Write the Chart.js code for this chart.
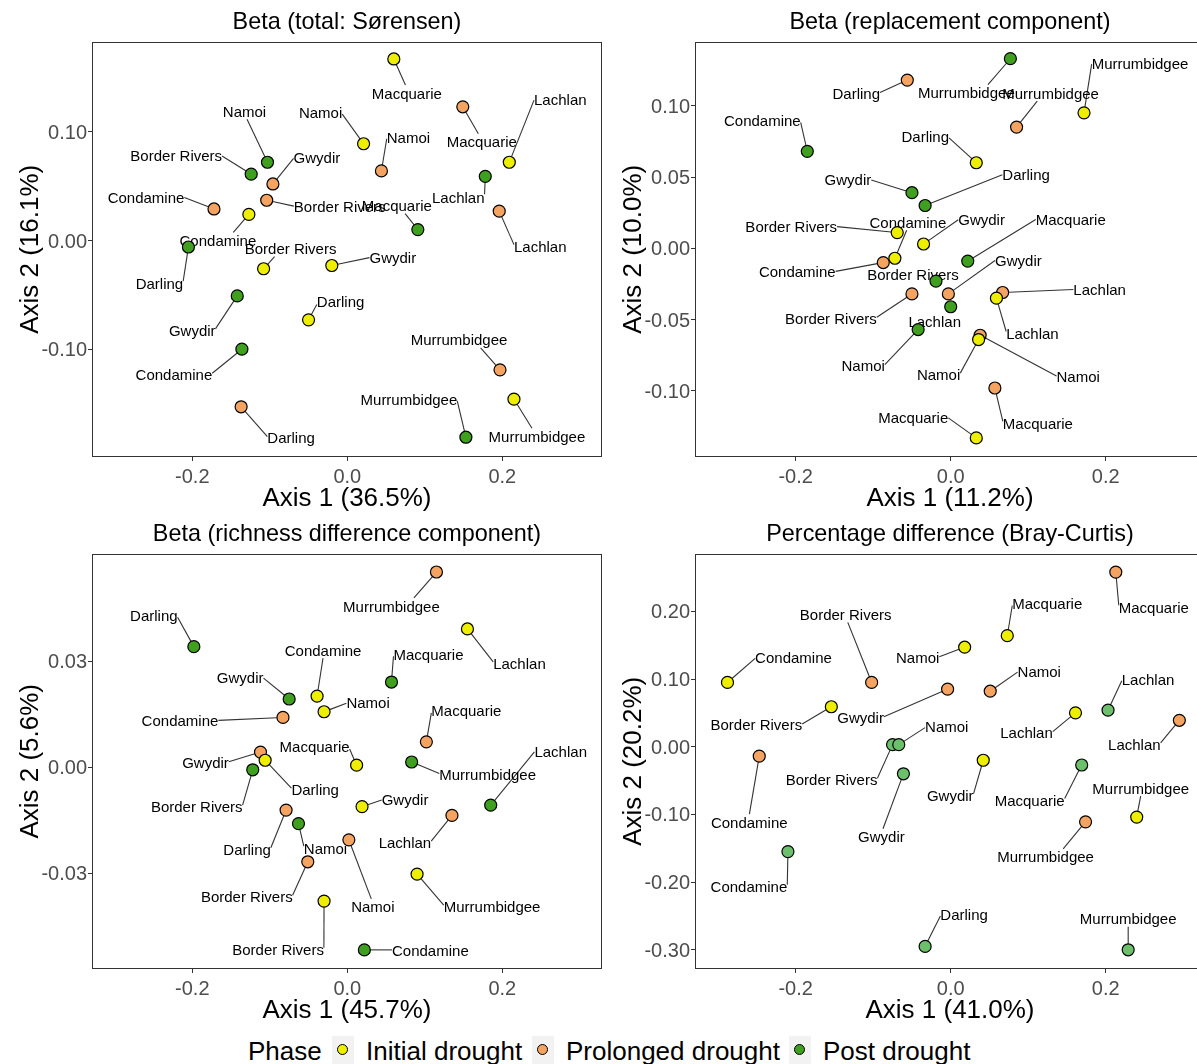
<!DOCTYPE html>
<html>
<head>
<meta charset="utf-8">
<title>Drought phase ordinations</title>
<script src="https://cdn.jsdelivr.net/npm/chart.js@4.4.1/dist/chart.umd.min.js"></script>
<style>
  html, body { margin: 0; padding: 0; background: #fff; overflow: hidden; }
  #figure { position: relative; width: 1197px; height: 1064px; overflow: hidden; font-family: "Liberation Sans", Arial, sans-serif; }
  #figure canvas { position: absolute; }
  .legend-text { position: absolute; top: 1035px; height: 32px; line-height: 32px; font-size: 26px; color: #000; white-space: nowrap; }
  .legend-key { position: absolute; top: 1036px; width: 22px; height: 28px; background: #f2f2f2; }
  .legend-key span { position: absolute; left: 5px; top: 8px; width: 9px; height: 9px; border: 1px solid #000; border-radius: 50%; }
</style>
</head>
<body>
<div id="figure">
  <canvas id="sorensen" width="603" height="515" style="left:0;top:0"></canvas>
  <canvas id="replacement" width="603" height="515" style="left:603px;top:0"></canvas>
  <canvas id="richness" width="603" height="515" style="left:0;top:512px"></canvas>
  <canvas id="braycurtis" width="603" height="515" style="left:603px;top:512px"></canvas>
</div>
<script>
// rivers, in the order used by every point array below
const rivers = ['Border Rivers', 'Condamine', 'Darling', 'Gwydir', 'Lachlan', 'Macquarie', 'Murrumbidgee', 'Namoi'];
const phases = ['Initial drought', 'Prolonged drought', 'Post drought'];

// Beta (total: Sorensen) - [axis1, axis2]
const sorInitial   = [[-0.108,-0.026],[-0.127,0.024],[-0.050,-0.073],[-0.020,-0.023],[0.209,0.072],[0.060,0.167],[0.215,-0.146],[0.021,0.089]];
const sorProlonged = [[-0.104,0.037],[-0.172,0.029],[-0.137,-0.153],[-0.096,0.052],[0.196,0.027],[0.149,0.123],[0.197,-0.119],[0.044,0.064]];
const sorPost      = [[-0.124,0.061],[-0.136,-0.100],[-0.205,-0.006],[-0.142,-0.051],[0.178,0.059],[0.091,0.010],[0.153,-0.181],[-0.103,0.072]];

// Beta (replacement component)
const repInitial   = [[-0.069,0.011],[-0.072,-0.007],[0.033,0.060],[-0.035,0.003],[0.059,-0.035],[0.033,-0.133],[0.172,0.095],[0.036,-0.064]];
const repProlonged = [[-0.050,-0.032],[-0.087,-0.010],[-0.056,0.118],[-0.003,-0.032],[0.067,-0.031],[0.057,-0.098],[0.085,0.085],[0.038,-0.061]];
const repPost      = [[-0.019,-0.023],[-0.185,0.068],[-0.033,0.030],[-0.050,0.039],[0.000,-0.041],[0.022,-0.009],[0.077,0.133],[-0.042,-0.057]];

// Beta (richness difference component)
const richInitial   = [[-0.030,-0.0378],[-0.039,0.0201],[-0.106,0.0020],[0.019,-0.0111],[0.155,0.0391],[0.012,0.0006],[0.090,-0.0302],[-0.030,0.0157]];
const richProlonged = [[-0.051,-0.0267],[-0.083,0.0141],[-0.079,-0.0121],[-0.112,0.0043],[0.135,-0.0136],[0.102,0.0072],[0.115,0.0552],[0.002,-0.0205]];
const richPost      = [[-0.122,-0.0007],[0.022,-0.0516],[-0.198,0.0341],[-0.075,0.0193],[0.185,-0.0107],[0.057,0.0241],[0.083,0.0015],[-0.063,-0.0159]];

// Percentage difference (Bray-Curtis) - no Darling point for the first two phases
const bcInitial   = [[-0.154,0.059],[-0.288,0.095],null,[0.042,-0.020],[0.161,0.050],[0.073,0.164],[0.240,-0.104],[0.018,0.147]];
const bcProlonged = [[-0.102,0.095],[-0.247,-0.014],null,[-0.004,0.085],[0.295,0.039],[0.213,0.258],[0.174,-0.111],[0.051,0.082]];
const bcPost      = [[-0.075,0.003],[-0.210,-0.155],[-0.033,-0.295],[-0.061,-0.040],[0.203,0.054],[0.169,-0.027],[0.229,-0.300],[-0.067,0.003]];

// tick values
const xTicks = [-0.2, 0, 0.2];
const sorYTicks = [-0.1, 0, 0.1];
const repYTicks = [-0.1, -0.05, 0, 0.05, 0.1];
const richYTicks = [-0.03, 0, 0.03];
const bcYTicks = [-0.3, -0.2, -0.1, 0, 0.1, 0.2];

// label nudges in pixels (where the repelled labels ended up)
const sorShift = [
  [[27,-20],[-31,26],[32,-18],[61,-8],[51,-63],[13,34],[23,37],[-43,-31]],
  [[73,6],[-68,-12],[50,31],[44,-27],[41,35],[19,35],[-41,-30],[27,-34]],
  [[-75,-19],[-68,25],[-29,36],[-45,34],[-27,21],[-21,-24],[-57,-38],[-23,-51]]
];
const repShift = [
  [[-106,-6],[13,-36],[-51,-26],[58,-25],[36,35],[-63,-21],[56,-50],[-40,35]],
  [[-81,24],[-86,9],[-51,13],[70,-34],[97,-3],[43,35],[34,-34],[98,41]],
  [[-23,-7],[-45,-31],[101,-31],[-64,-13],[-16,15],[103,-42],[-44,34],[-55,36]]
];
const richShift = [
  [[-46,48],[6,-46],[50,29],[43,-7],[52,34],[-42,-19],[75,32],[44,-9]],
  [[-61,35],[-103,3],[-39,39],[-55,10],[-47,27],[40,-31],[-45,34],[24,67]],
  [[-56,37],[66,0],[-40,-31],[-49,-22],[70,-54],[37,-28],[76,12],[27,25]]
];
const bcShift = [
  [[-75,18],[66,-25],null,[-33,35],[-49,20],[40,-32],[4,-29],[-47,10]],
  [[-26,-68],[-10,66],null,[-87,28],[-45,24],[38,35],[-40,35],[49,-20]],
  [[-61,35],[-39,35],[39,-32],[-22,63],[40,-31],[-52,35],[0,-31],[48,-18]]
];

const FONT = '"Liberation Sans", Arial, sans-serif';
const yellow = '#eeee00', orange = '#f4a460', green = '#3f9f1f', lightGreen = '#6cc06c';

// where a leader line meets the label box (same idea as ggrepel)
function connectPoint(px, py, box) {
  let ox = px, oy = py, hx = false, hy = false;
  if (px < box.l) { ox = box.l; hx = true; } else if (px > box.r) { ox = box.r; hx = true; }
  if (py < box.t) { oy = box.t; hy = true; } else if (py > box.b) { oy = box.b; hy = true; }
  const mx = (box.l + box.r) / 2, my = (box.t + box.b) / 2;
  const d = Math.hypot(px - ox, py - oy);
  if (hy && !hx) {
    ox += (mx - ox) * d / Math.hypot(px - mx, py - oy);
  } else if (hx && !hy) {
    oy += (my - oy) * d / Math.hypot(px - ox, py - my);
  } else if (hx && hy) {
    const a1 = Math.hypot(px - mx, py - oy);
    const a2 = Math.hypot(px - ox, py - my);
    if (a1 < a2) ox += (mx - ox) * d / a1;
    else oy += (my - oy) * d / a2;
  }
  return [ox, oy];
}

const repelLabels = {
  id: 'repelLabels',
  beforeDatasetsDraw(chart) {
    const ctx = chart.ctx;
    ctx.save();
    ctx.font = '15px ' + FONT;
    ctx.textAlign = 'center';
    ctx.textBaseline = 'middle';
    chart.data.datasets.forEach((ds, di) => {
      chart.getDatasetMeta(di).data.forEach((el, i) => {
        const [dx, dy] = ds.nudges[i];
        const cx = el.x + dx, cy = el.y + dy;
        const text = ds.riverLabels[i];
        const w = ctx.measureText(text).width;
        const [ox, oy] = connectPoint(el.x, el.y, { l: cx - w / 2, r: cx + w / 2, t: cy - 8, b: cy + 8 });
        const len = Math.hypot(el.x - ox, el.y - oy);
        if (len > 10) {
          const k = (len - 6) / len;
          ctx.strokeStyle = '#333';
          ctx.lineWidth = 1.1;
          ctx.beginPath();
          ctx.moveTo(ox, oy);
          ctx.lineTo(ox + (el.x - ox) * k, oy + (el.y - oy) * k);
          ctx.stroke();
        }
        ctx.fillStyle = '#000';
        ctx.fillText(text, cx, cy + 1.5);
      });
    });
    ctx.restore();
  },
  afterDraw(chart) {
    const a = chart.chartArea, ctx = chart.ctx;
    ctx.save();
    ctx.strokeStyle = '#333';
    ctx.lineWidth = 1;
    ctx.strokeRect(Math.round(a.left) + 0.5, Math.round(a.top) + 0.5, Math.round(a.right - a.left) - 1, Math.round(a.bottom - a.top) - 1);
    ctx.restore();
  }
};

function makeDataset(points, shifts, name, color) {
  const data = [], riverLabels = [], nudges = [];
  points.forEach((p, i) => {
    if (!p) return;
    data.push({ x: p[0], y: p[1] });
    riverLabels.push(rivers[i]);
    nudges.push(shifts[i]);
  });
  return {
    label: name, data, riverLabels, nudges,
    backgroundColor: color, borderColor: '#000', borderWidth: 1.2,
    pointRadius: 6, pointHoverRadius: 6
  };
}

function drawPanel(id, opts) {
  const datasets = opts.series.map((pts, k) => makeDataset(pts, opts.shifts[k], phases[k], opts.colors[k]));
  new Chart(document.getElementById(id), {
    type: 'scatter',
    data: { datasets },
    options: {
      responsive: false,
      animation: false,
      events: [],
      devicePixelRatio: 1,
      layout: { autoPadding: false, padding: { left: 0, right: 1, top: 0, bottom: 0 } },
      scales: {
        x: {
          type: 'linear', min: opts.xRange[0], max: opts.xRange[1],
          afterBuildTicks: s => { s.ticks = xTicks.map(v => ({ value: v })); },
          afterFit: s => { s.height = 58; },
          grid: { drawOnChartArea: false, drawTicks: true, tickLength: 4, tickColor: '#333', tickWidth: 1 },
          border: { display: false },
          ticks: { padding: 4, color: '#4d4d4d', font: { family: FONT, size: 20 }, maxRotation: 0, autoSkip: false,
                   callback: v => v.toFixed(1) },
          title: { display: true, text: opts.xTitle, color: '#000', font: { family: FONT, size: 26, lineHeight: 1.2 },
                   padding: { top: 0, bottom: 0.5 } }
        },
        y: {
          type: 'linear', min: opts.yRange[0], max: opts.yRange[1],
          afterBuildTicks: s => { s.ticks = opts.yTicks.map(v => ({ value: v })); },
          afterFit: s => { s.width = 92; },
          grid: { drawOnChartArea: false, drawTicks: true, tickLength: 4, tickColor: '#333', tickWidth: 1 },
          border: { display: false },
          ticks: { padding: 1, labelOffset: 1.5, color: '#4d4d4d', font: { family: FONT, size: 20 }, autoSkip: false,
                   callback: v => v.toFixed(2) },
          title: { display: true, text: opts.yTitle, color: '#000', font: { family: FONT, size: 26, lineHeight: 1.2 },
                   padding: { top: 15, bottom: 0 } }
        }
      },
      plugins: {
        legend: { display: false },
        tooltip: { enabled: false },
        title: {
          display: true, text: opts.title, fullSize: false, color: '#000',
          font: { family: FONT, size: 23.4, weight: 'normal', lineHeight: 1.2 },
          padding: { top: 8.5, bottom: 5 }
        }
      }
    },
    plugins: [repelLabels]
  });
}

drawPanel('sorensen', {
  title: 'Beta (total: Sørensen)', xTitle: 'Axis 1 (36.5%)', yTitle: 'Axis 2 (16.1%)',
  series: [sorInitial, sorProlonged, sorPost], shifts: sorShift, colors: [yellow, orange, green],
  xRange: [-0.3294, 0.3286], yRange: [-0.1992, 0.1830], yTicks: sorYTicks
});
drawPanel('replacement', {
  title: 'Beta (replacement component)', xTitle: 'Axis 1 (11.2%)', yTitle: 'Axis 2 (10.0%)',
  series: [repInitial, repProlonged, repPost], shifts: repShift, colors: [yellow, orange, green],
  xRange: [-0.3299, 0.3281], yRange: [-0.1464, 0.1450], yTicks: repYTicks
});
drawPanel('richness', {
  title: 'Beta (richness difference component)', xTitle: 'Axis 1 (45.7%)', yTitle: 'Axis 2 (5.6%)',
  series: [richInitial, richProlonged, richPost], shifts: richShift, colors: [yellow, orange, green],
  xRange: [-0.3294, 0.3286], yRange: [-0.0570, 0.0604], yTicks: richYTicks
});
drawPanel('braycurtis', {
  title: 'Percentage difference (Bray-Curtis)', xTitle: 'Axis 1 (41.0%)', yTitle: 'Axis 2 (20.2%)',
  series: [bcInitial, bcProlonged, bcPost], shifts: bcShift, colors: [yellow, orange, lightGreen],
  xRange: [-0.3299, 0.3281], yRange: [-0.3284, 0.2853], yTicks: bcYTicks
});

// shared legend along the bottom
const figure = document.getElementById('figure');
const legendTitle = document.createElement('div');
legendTitle.className = 'legend-text';
legendTitle.style.left = '248px';
legendTitle.textContent = 'Phase';
figure.appendChild(legendTitle);
const keyLefts = [332, 532, 789];
const legendColors = [yellow, orange, green];
phases.forEach((name, k) => {
  const key = document.createElement('div');
  key.className = 'legend-key';
  key.style.left = keyLefts[k] + 'px';
  const dot = document.createElement('span');
  dot.style.background = legendColors[k];
  key.appendChild(dot);
  figure.appendChild(key);
  const txt = document.createElement('div');
  txt.className = 'legend-text';
  txt.style.left = (keyLefts[k] + 34) + 'px';
  txt.textContent = name;
  figure.appendChild(txt);
});
</script>
</body>
</html>
